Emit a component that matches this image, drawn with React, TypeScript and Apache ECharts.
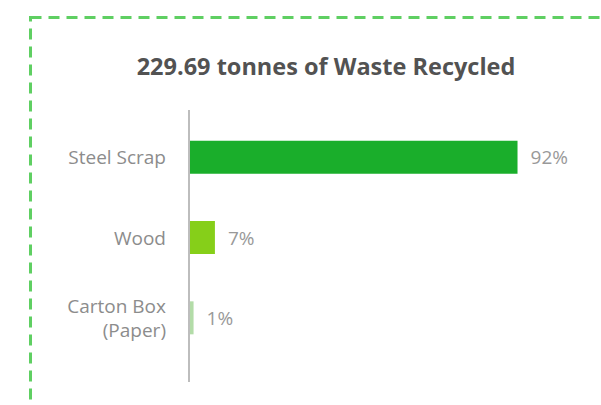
import React, { useEffect, useRef } from "react";
import * as echarts from "echarts";

const titleText = "229.69 tonnes of Waste Recycled";
const categories = ["Steel Scrap", "Wood", "Carton Box\n(Paper)"];
const values = [92, 7, 1];
const barColors = ["#1aae2b", "#86cf19", "#b3dca8"];

export default function App() {
  const ref = useRef<HTMLDivElement>(null);
  useEffect(() => {
    document.body.style.margin = "0";
    if (!ref.current) return;
    const chart = echarts.init(ref.current, undefined, { renderer: "svg" });
    chart.setOption({
      animation: false,
      backgroundColor: "#ffffff",
      title: {
        text: titleText,
        left: 321,
        textAlign: "center",
        top: 49,
        textStyle: {
          fontFamily: "Open Sans",
          fontWeight: "bold",
          fontSize: 23.5,
          color: "#525252",
        },
      },
      graphic: [
        {
          type: "rect",
          shape: { x: 30.5, y: 17.5, width: 640, height: 460 },
          style: { fill: "none", stroke: "#5fcf62", lineWidth: 3, lineDash: [11, 7] },
          silent: true,
        },
        {
          type: "line",
          shape: { x1: 189, y1: 110, x2: 189, y2: 382 },
          style: { stroke: "#bdbdbd", lineWidth: 2 },
          silent: true,
        },
      ],
      grid: { left: 190, top: 117, width: 356, height: 241 },
      xAxis: {
        type: "value",
        min: 0,
        max: 100,
        show: false,
      },
      yAxis: {
        type: "category",
        data: categories,
        inverse: true,
        axisLine: { show: false },
        axisTick: { show: false },
        splitLine: { show: false },
        axisLabel: {
          margin: 24,
          fontFamily: "Open Sans",
          fontSize: 19,
          color: "#8c8c8c",
          lineHeight: 24,
          align: "right",
        },
      },
      series: [
        {
          type: "bar",
          barWidth: 33,
          data: values.map((v, i) => ({ value: v, itemStyle: { color: barColors[i] } })),
          label: {
            show: true,
            position: "right",
            distance: 13,
            formatter: "{c}%",
            fontFamily: "Open Sans",
            fontSize: 19,
            color: "#999999",
          },
        },
      ],
    });
    return () => chart.dispose();
  }, []);
  return <div ref={ref} style={{ width: 601, height: 405 }} />;
}
